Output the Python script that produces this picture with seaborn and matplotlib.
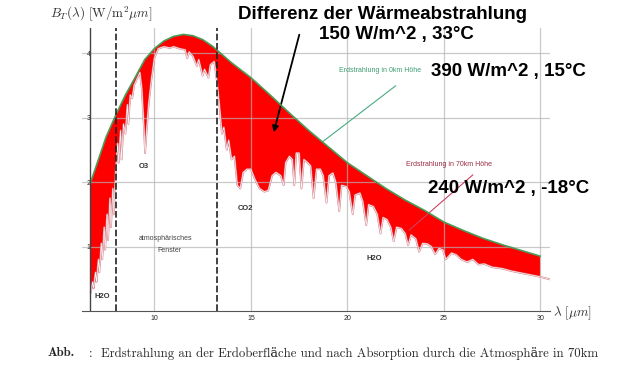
import matplotlib
matplotlib.use("Agg")
import matplotlib.pyplot as plt
import seaborn as sns
import numpy as np
import pandas as pd

sns.set_style("white")
plt.rcParams["font.family"] = ["Liberation Sans", "DejaVu Sans"]
plt.rcParams["mathtext.fontset"] = "cm"

# Erdstrahlung in 0 km Hoehe (obere Huellkurve)
env_x = [6.68, 7.0, 7.5, 8.0, 8.5, 9.0, 9.5, 10.0, 10.5, 11.0, 11.5, 12.0, 12.5, 13.0,
         13.5, 14.0, 15.0, 16.0, 17.0, 18.0, 19.0, 20.0, 21.0, 22.0, 23.0, 24.0, 25.0,
         26.0, 27.0, 28.0, 29.0, 30.0]
env_y = [1.98, 2.26, 2.7, 3.04, 3.35, 3.62, 3.9, 4.07, 4.19, 4.26, 4.29, 4.27, 4.21, 4.11,
         3.98, 3.85, 3.62, 3.35, 3.07, 2.8, 2.55, 2.3, 2.1, 1.9, 1.72, 1.56, 1.38,
         1.25, 1.13, 1.03, 0.94, 0.85]

# Erdstrahlung in 70 km Hoehe (nach Absorption)
low_x = [6.7, 6.8, 6.85, 6.95, 7.0, 7.1, 7.15, 7.25, 7.3, 7.4, 7.45, 7.55, 7.6, 7.7, 7.75,
         7.85, 7.9, 8.0, 8.1, 8.15, 8.25, 8.3, 8.4, 8.5, 8.6, 8.65, 8.75, 8.85, 8.95, 9.1,
         9.25, 9.35, 9.45, 9.52, 9.6, 9.7, 9.85, 10.0, 10.2, 10.5, 10.8, 11.0, 11.3, 11.6,
         11.7, 11.8, 12.0, 12.2, 12.3, 12.5, 12.6, 12.8, 12.9, 13.1, 13.25, 13.4, 13.5,
         13.6, 13.75, 13.85, 14.0, 14.15, 14.3, 14.45, 14.6, 14.8, 15.0, 15.2, 15.45,
         15.7, 15.9, 16.1, 16.3, 16.55, 16.7, 16.8, 17.0, 17.15, 17.25, 17.35, 17.5,
         17.62, 17.75, 17.95, 18.1, 18.25, 18.4, 18.6, 18.75, 18.92, 19.05, 19.25, 19.4,
         19.58, 19.7, 19.95, 20.1, 20.28, 20.4, 20.65, 20.8, 20.98, 21.1, 21.35, 21.55,
         21.72, 21.85, 22.05, 22.25, 22.4, 22.55, 22.8, 23.0, 23.15, 23.3, 23.55, 23.72,
         23.9, 24.15, 24.35, 24.55, 24.75, 24.95, 25.1, 25.4, 25.65, 25.9, 26.2, 26.5,
         26.8, 27.1, 27.5, 28.0, 28.5, 29.0, 29.5, 30.0, 30.5]
low_y = [0.28, 0.45, 0.35, 0.6, 0.45, 0.8, 0.6, 1.05, 0.8, 1.3, 0.95, 1.5, 1.1, 1.75, 1.3,
         1.9, 1.5, 2.2, 2.6, 2.3, 2.8, 2.35, 2.9, 2.75, 3.2, 2.9, 3.35, 3.3, 3.5, 3.6,
         3.7, 3.45, 2.9, 2.45, 2.8, 3.2, 3.6, 3.92, 4.07, 4.1, 4.08, 4.1, 4.07, 4.05,
         3.92, 4.02, 3.95, 3.8, 3.9, 3.65, 3.75, 3.62, 3.82, 3.87, 3.55, 3.1, 2.75,
         2.85, 2.5, 2.65, 2.35, 2.4, 1.95, 1.9, 2.15, 2.2, 2.2, 2.05, 1.9,
         1.85, 1.87, 2.1, 2.15, 2.1, 1.95, 2.3, 2.4, 2.35, 1.95, 2.45, 2.45,
         1.9, 2.35, 2.3, 2.25, 1.75, 2.2, 2.2, 2.1, 1.68, 2.1, 2.14, 2.0,
         1.55, 1.95, 1.93, 1.85, 1.5, 1.8, 1.83, 1.7, 1.33, 1.65, 1.62, 1.5,
         1.2, 1.45, 1.42, 1.3, 1.08, 1.3, 1.28, 1.2, 1.02, 1.18, 1.12, 0.92,
         1.05, 1.04, 1.0, 0.88, 0.97, 0.95, 0.8, 0.9, 0.87, 0.8, 0.76, 0.8,
         0.72, 0.73, 0.68, 0.66, 0.62, 0.59, 0.56, 0.53, 0.49]

x_ticks = [10, 15, 20, 25, 30]
y_ticks = [1, 2, 3, 4]
window_edges = [8.0, 13.25]

df_env = pd.DataFrame({"lam": env_x, "B": env_y})
df_low = pd.DataFrame({"lam": low_x, "B": low_y})

fig = plt.figure(figsize=(6.4, 3.75), dpi=100)
ax = fig.add_axes([82 / 640, 64 / 375, 468 / 640, 283 / 375])

# rote Differenzflaeche zwischen beiden Kurven
inner = df_low[df_low["lam"] <= 30]
ax.fill(np.r_[df_env["lam"], inner["lam"][::-1]], np.r_[df_env["B"], inner["B"][::-1]],
        color="#ff0000", lw=0, zorder=2)

sns.lineplot(data=df_low, x="lam", y="B", ax=ax, color="#d9808a", lw=1.3, zorder=3)
sns.lineplot(data=df_low, x="lam", y="B", ax=ax, color="white", lw=0.45, zorder=3)
sns.lineplot(data=df_env, x="lam", y="B", ax=ax, color="#4a9a58", lw=1.2, zorder=4)

for xe in window_edges:
    ax.axvline(xe, color="#222222", lw=1.2, ls=(0, (4, 1.6)), zorder=5)
ax.axvline(6.67, color="#444444", lw=1.0, zorder=5)

ax.set_xlim(6.25, 30.5)
ax.set_ylim(0, 4.39)
ax.set_xticks(x_ticks)
ax.set_yticks(y_ticks)
ax.set_xticks(range(7, 31), minor=True)
# Gitter liegt ueber der roten Flaeche (leicht transparent)
ax.set_axisbelow(False)
ax.grid(True, which="major", color="#b4b4b4", alpha=0.7, lw=0.9)
for s in ["top", "right", "left"]:
    ax.spines[s].set_visible(False)
ax.spines["bottom"].set_color("#555555")
ax.tick_params(axis="x", which="both", direction="in", length=2.5, labelsize=5, pad=3,
               color="#555555")
ax.tick_params(axis="y", length=0, labelsize=5, pad=-6)
ax.set_xlabel("")
ax.set_ylabel("")

fig.text(50 / 640, 1 - 14 / 375, r"$B_T(\lambda)\ [\mathrm{W/m^2}\mu m]$", fontsize=9.5,
         va="center", ha="left", color="#333333")
fig.text(553 / 640, 1 - 313 / 375, r"$\lambda\ [\mu m]$", fontsize=9.5,
         va="center", ha="left", color="#333333")

big = dict(fontsize=13.5, fontweight="bold", color="black", va="baseline", ha="left")
fig.text(238 / 640, 1 - 19 / 375, "Differenz der Wärmeabstrahlung", **big)
fig.text(319 / 640, 1 - 39 / 375, "150 W/m^2 , 33°C", **big)
fig.text(431 / 640, 1 - 76 / 375, "390 W/m^2 , 15°C", **big)
fig.text(428 / 640, 1 - 193 / 375, "240 W/m^2 , -18°C", **big)

fig.text(380 / 640, 1 - 70 / 375, "Erdstrahlung in 0km Höhe", fontsize=5, color="#3c9c74",
         ha="center", va="center")
fig.text(449 / 640, 1 - 165 / 375, "Erdstrahlung in 70km Höhe", fontsize=5, color="#9c2c40",
         ha="center", va="center")

small = dict(fontsize=5.5, fontweight="bold", color="#333333", ha="center", va="center")
fig.text(144 / 640, 1 - 167 / 375, "O3", **small)
fig.text(245 / 640, 1 - 208 / 375, "CO2", **small)
fig.text(102 / 640, 1 - 297 / 375, "H2O", **small)
fig.text(374 / 640, 1 - 259 / 375, "H2O", **small)
fig.text(166 / 640, 1 - 239 / 375, "atmosphärisches", fontsize=5, color="#444444",
         ha="center", va="center")
fig.text(169 / 640, 1 - 251 / 375, "Fenster", fontsize=5, color="#444444",
         ha="center", va="center")

# Hinweislinien und Pfeil
ax.annotate("", xy=(321, 375 - 143), xycoords="figure pixels", xytext=(398, 375 - 84),
            textcoords="figure pixels", arrowprops=dict(arrowstyle="-", color="#4aaa80", lw=0.8))
ax.annotate("", xy=(407, 375 - 232), xycoords="figure pixels", xytext=(475, 375 - 173),
            textcoords="figure pixels", arrowprops=dict(arrowstyle="-", color="#d04060", lw=0.8))
ax.annotate("", xy=(273, 375 - 135), xycoords="figure pixels", xytext=(300, 375 - 32),
            textcoords="figure pixels",
            arrowprops=dict(arrowstyle="-|>", color="black", lw=1.3, mutation_scale=9))

fig.text(48 / 640, 1 - 353 / 375, "Abb.", fontsize=9.2, fontweight="bold",
         family=["cmb10", "DejaVu Serif"], va="center", ha="left")
fig.text(89 / 640, 1 - 353 / 375,
         ":  Erdstrahlung an der Erdoberfläche und nach Absorption durch die Atmosphäre in 70km",
         fontsize=9.2, family=["cmr10", "DejaVu Serif"], va="center", ha="left")

fig.savefig("out.png", dpi=100)
